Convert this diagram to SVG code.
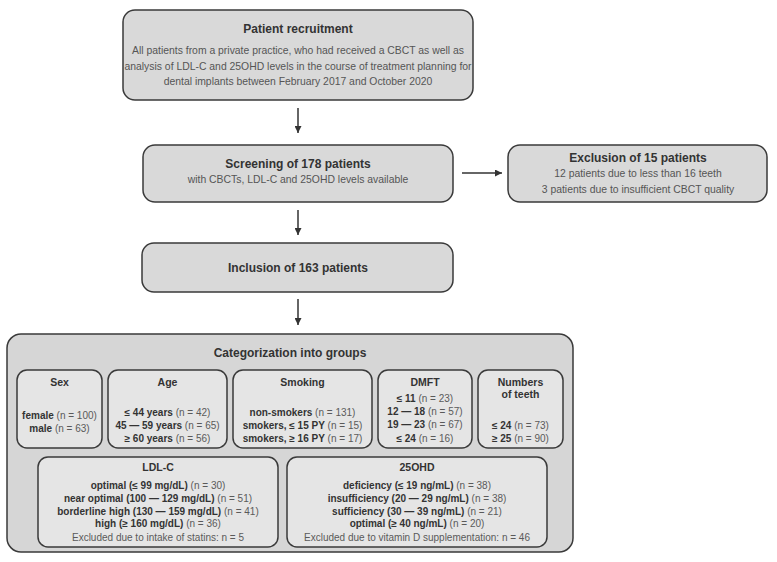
<svg xmlns="http://www.w3.org/2000/svg" width="777" height="562" viewBox="0 0 777 562">
<defs>
<marker id="ah" viewBox="0 0 10 10" refX="10" refY="5" markerWidth="7" markerHeight="7" markerUnits="userSpaceOnUse" orient="auto">
<path d="M0,0 L10,5 L0,10 z" fill="#333"/>
</marker>
<style>
.box{fill:#d9d9d9;stroke:#3a3a3a;stroke-width:1.5}
.outer{fill:#d6d6d6;stroke:#3a3a3a;stroke-width:1.5}
.inner{fill:#e5e5e5;stroke:#3a3a3a;stroke-width:1.5}
text{font-family:"Liberation Sans",Arial,sans-serif;text-anchor:middle}
.t{font-weight:bold;font-size:12px;fill:#333}
.s{font-size:10.4px;fill:#555}
.h{font-weight:bold;font-size:10.5px;fill:#333}
.c{font-size:10px;fill:#5a5a5a}
.b{font-weight:bold;fill:#333}
.con{stroke:#333;stroke-width:1.5;fill:none}
</style>
</defs>
<rect width="777" height="562" fill="#fff"/>
<g id="recruitment">
<rect class="box" x="123" y="10" width="350" height="90" rx="12"/>
<text class="t" x="298" y="33">Patient recruitment</text>
<text class="s" x="298" y="54">All patients from a private practice, who had received a CBCT as well as</text>
<text class="s" x="298" y="70">analysis of LDL-C and 25OHD levels in the course of treatment planning for</text>
<text class="s" x="298" y="85">dental implants between February 2017 and October 2020</text>
</g>
<g id="screening">
<rect class="box" x="143" y="145" width="310" height="57" rx="12"/>
<text class="t" x="298" y="168">Screening of 178 patients</text>
<text class="s" x="298" y="183">with CBCTs, LDL-C and 25OHD levels available</text>
</g>
<g id="exclusion">
<rect class="box" x="508" y="145" width="259" height="57" rx="12"/>
<text class="t" x="638" y="162">Exclusion of 15 patients</text>
<text class="s" x="638" y="177">12 patients due to less than 16 teeth</text>
<text class="s" x="638" y="193">3 patients due to insufficient CBCT quality</text>
</g>
<g id="inclusion">
<rect class="box" x="142" y="243" width="311" height="49" rx="12"/>
<text class="t" x="298" y="272">Inclusion of 163 patients</text>
</g>
<g id="categorization">
<rect class="outer" x="7" y="334" width="566" height="218" rx="14"/>
<text class="t" x="290" y="357">Categorization into groups</text>
</g>
<g id="sex">
<rect class="inner" x="17" y="370" width="85" height="78" rx="10"/>
<text class="h" x="59.5" y="386">Sex</text>
<text class="c" x="59.5" y="419"><tspan class="b">female</tspan> (n = 100)</text>
<text class="c" x="59.5" y="432"><tspan class="b">male</tspan> (n = 63)</text>
</g>
<g id="age">
<rect class="inner" x="108" y="370" width="119" height="78" rx="10"/>
<text class="h" x="167.5" y="386">Age</text>
<text class="c" x="167.5" y="416"><tspan class="b">≤ 44 years</tspan> (n = 42)</text>
<text class="c" x="167.5" y="429"><tspan class="b">45 — 59 years</tspan> (n = 65)</text>
<text class="c" x="167.5" y="442"><tspan class="b">≥ 60 years</tspan> (n = 56)</text>
</g>
<g id="smoking">
<rect class="inner" x="233" y="370" width="139" height="78" rx="10"/>
<text class="h" x="302.5" y="386">Smoking</text>
<text class="c" x="302.5" y="416"><tspan class="b">non-smokers</tspan> (n = 131)</text>
<text class="c" x="302.5" y="429"><tspan class="b">smokers, ≤ 15 PY</tspan> (n = 15)</text>
<text class="c" x="302.5" y="442"><tspan class="b">smokers, ≥ 16 PY</tspan> (n = 17)</text>
</g>
<g id="dmft">
<rect class="inner" x="378" y="370" width="94" height="78" rx="10"/>
<text class="h" x="425" y="386">DMFT</text>
<text class="c" x="425" y="402"><tspan class="b">≤ 11</tspan> (n = 23)</text>
<text class="c" x="425" y="415"><tspan class="b">12 — 18</tspan> (n = 57)</text>
<text class="c" x="425" y="428"><tspan class="b">19 — 23</tspan> (n = 67)</text>
<text class="c" x="425" y="442"><tspan class="b">≤ 24</tspan> (n = 16)</text>
</g>
<g id="teeth">
<rect class="inner" x="478" y="370" width="85" height="78" rx="10"/>
<text class="h" x="520.5" y="386">Numbers</text>
<text class="h" x="520.5" y="398">of teeth</text>
<text class="c" x="520.5" y="429"><tspan class="b">≤ 24</tspan> (n = 73)</text>
<text class="c" x="520.5" y="442"><tspan class="b">≥ 25</tspan> (n = 90)</text>
</g>
<g id="ldlc">
<rect class="inner" x="38" y="457" width="240" height="90" rx="10"/>
<text class="h" x="158" y="471">LDL-C</text>
<text class="c" x="158" y="489"><tspan class="b">optimal (≤ 99 mg/dL)</tspan> (n = 30)</text>
<text class="c" x="158" y="502"><tspan class="b">near optimal (100 — 129 mg/dL)</tspan> (n = 51)</text>
<text class="c" x="158" y="515"><tspan class="b">borderline high (130 — 159 mg/dL)</tspan> (n = 41)</text>
<text class="c" x="158" y="527"><tspan class="b">high (≥ 160 mg/dL)</tspan> (n = 36)</text>
<text class="c" x="158" y="541">Excluded due to intake of statins: n = 5</text>
</g>
<g id="ohd">
<rect class="inner" x="287" y="457" width="260" height="90" rx="10"/>
<text class="h" x="417" y="471">25OHD</text>
<text class="c" x="417" y="489"><tspan class="b">deficiency (≤ 19 ng/mL)</tspan> (n = 38)</text>
<text class="c" x="417" y="502"><tspan class="b">insufficiency (20 — 29 ng/mL)</tspan> (n = 38)</text>
<text class="c" x="417" y="515"><tspan class="b">sufficiency (30 — 39 ng/mL)</tspan> (n = 21)</text>
<text class="c" x="417" y="527"><tspan class="b">optimal (≥ 40 ng/mL)</tspan> (n = 20)</text>
<text class="c" x="417" y="541">Excluded due to vitamin D supplementation: n = 46</text>
</g>
<g id="connectors">
<line class="con" x1="298" y1="108" x2="298" y2="133" marker-end="url(#ah)"/>
<line class="con" x1="298" y1="210" x2="298" y2="235" marker-end="url(#ah)"/>
<line class="con" x1="298" y1="299" x2="298" y2="325" marker-end="url(#ah)"/>
<line class="con" x1="462" y1="173" x2="502" y2="173" marker-end="url(#ah)"/>
</g>
</svg>
